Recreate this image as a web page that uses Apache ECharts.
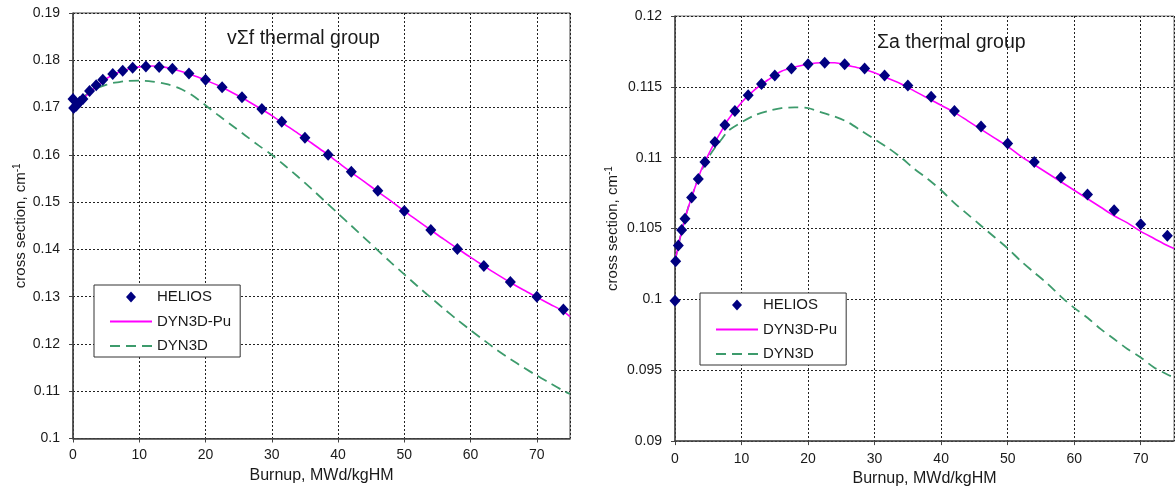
<!DOCTYPE html>
<html>
<head>
<meta charset="utf-8">
<script src="https://cdn.jsdelivr.net/npm/echarts@6/dist/echarts.min.js"></script>
<style>
html,body{margin:0;padding:0;background:#fff;}
#c{width:1175px;height:492px;}
</style>
</head>
<body>
<div id="c"></div>
<script>
// ---------- Left chart: nu-Sigma-f thermal group ----------
const helX = [0, 0.1, 0.5, 1, 1.5, 2.5, 3.5, 4.5, 6, 7.5, 9, 11, 13, 15, 17.5, 20, 22.5, 25.5, 28.5, 31.5, 35, 38.5, 42, 46, 50, 54, 58, 62, 66, 70, 74];
const nuSfHelios = [0.1718, 0.1699, 0.1704, 0.1712, 0.1718, 0.1735, 0.1747, 0.1759, 0.1771, 0.1778, 0.1784, 0.1787, 0.1786, 0.1782, 0.1772, 0.1759, 0.1743, 0.1722, 0.1697, 0.1670, 0.1636, 0.1600, 0.1564, 0.1524, 0.1481, 0.1441, 0.1401, 0.1365, 0.1331, 0.1300, 0.1273];

const curveX = [0, 0.5, 1, 1.5, 2, 3, 4, 5, 6, 7, 8, 10, 12, 14, 16, 18, 20, 22, 24, 26, 28, 30, 32, 34, 36, 38, 40, 42, 44, 46, 48, 50, 52, 54, 56, 58, 60, 62, 64, 66, 68, 70, 72, 74, 75];
const nuSfPu = [0.1700, 0.1705, 0.1711, 0.1718, 0.1725, 0.1738, 0.1750, 0.1761, 0.1769, 0.1775, 0.1780, 0.1786, 0.1788, 0.1785, 0.1778, 0.1769, 0.1758, 0.1746, 0.1732, 0.1717, 0.1700, 0.1683, 0.1664, 0.1645, 0.1625, 0.1605, 0.1584, 0.1563, 0.1543, 0.1522, 0.1502, 0.1481, 0.1461, 0.1441, 0.1421, 0.1402, 0.1383, 0.1365, 0.1347, 0.1330, 0.1314, 0.1299, 0.1284, 0.1269, 0.1258];
const nuSfDyn = [0.1700, 0.1708, 0.1715, 0.1721, 0.1727, 0.1736, 0.1743, 0.1748, 0.1752, 0.1754, 0.1756, 0.1757, 0.1755, 0.1750, 0.1741, 0.1726, 0.1705, 0.1683, 0.1662, 0.1641, 0.1620, 0.1600, 0.1577, 0.1553, 0.1528, 0.1502, 0.1476, 0.1450, 0.1424, 0.1398, 0.1372, 0.1347, 0.1322, 0.1298, 0.1274, 0.1251, 0.1229, 0.1208, 0.1187, 0.1168, 0.1150, 0.1133, 0.1117, 0.1101, 0.1094];

// ---------- Right chart: Sigma-a thermal group ----------
const saHelios = [0.0999, 0.1027, 0.1038, 0.1049, 0.1057, 0.1072, 0.1085, 0.1097, 0.1111, 0.1123, 0.1133, 0.1144, 0.1152, 0.1158, 0.1163, 0.1166, 0.1167, 0.1166, 0.1163, 0.1158, 0.1151, 0.1143, 0.1133, 0.1122, 0.1110, 0.1097, 0.1086, 0.1074, 0.1063, 0.1053, 0.1045];
const saPu = [0.1027, 0.1038, 0.1048, 0.1057, 0.1065, 0.1079, 0.1092, 0.1102, 0.1111, 0.1119, 0.1127, 0.1139, 0.1148, 0.1155, 0.1161, 0.1164, 0.1166, 0.1167, 0.1167, 0.1165, 0.1163, 0.1160, 0.1156, 0.1152, 0.1147, 0.1142, 0.1137, 0.1132, 0.1126, 0.1120, 0.1114, 0.1108, 0.1101, 0.1095, 0.1089, 0.1083, 0.1077, 0.1071, 0.1065, 0.1059, 0.1054, 0.1048, 0.1043, 0.1038, 0.1036];
const saDyn = [0.1027, 0.1038, 0.1048, 0.1057, 0.1065, 0.1079, 0.1091, 0.1100, 0.1107, 0.1113, 0.1119, 0.1125, 0.1130, 0.1133, 0.1135, 0.11355, 0.1135, 0.1132, 0.1129, 0.1125, 0.1119, 0.1113, 0.1107, 0.1100, 0.1092, 0.1085, 0.1077, 0.1068, 0.1060, 0.1052, 0.1044, 0.1036, 0.1027, 0.1019, 0.1011, 0.1002, 0.0994, 0.0987, 0.0979, 0.0972, 0.0965, 0.0959, 0.0952, 0.0947, 0.0945];

const titles = ['vΣf thermal group', 'Σa thermal group'];
const names = ['HELIOS', 'DYN3D-Pu', 'DYN3D'];
const xName = 'Burnup, MWd/kgHM';

const zip = (xs, ys) => xs.map((x, i) => [x, ys[i]]);
const FONT = '"Liberation Sans", Arial, sans-serif';
const TXT = '#1a1a1a';
const NAVY = '#000080', MAGENTA = '#ff00ff', GREEN = '#3d9b6c';
// legend diamond drawn centred inside a 42x11 icon box (moves widen the box)
const DIAMOND_ICON = 'path://M0,0 M42,11 M16,5.5 L21,0 L26,5.5 L21,11 Z';

function xAxisFor(gi, gap, margin) {
  return {
    gridIndex: gi, type: 'value', min: 0, max: 75, interval: 10,
    name: xName, nameLocation: 'middle', nameGap: gap,
    nameTextStyle: {fontFamily: FONT, fontSize: 16, color: TXT},
    axisLine: {lineStyle: {color: '#444', width: 1.5}},
    axisTick: {show: true, length: 4, lineStyle: {color: '#444'}},
    axisLabel: {fontFamily: FONT, fontSize: 14, color: TXT, margin: margin, showMaxLabel: false},
    splitLine: {show: true, lineStyle: {color: '#222', type: [2, 2], width: 1}}
  };
}
function yAxisFor(gi, min, max, interval, gap) {
  return {
    gridIndex: gi, type: 'value', min: min, max: max, interval: interval,
    name: 'cross section, cm{sup|-1}', nameLocation: 'middle', nameGap: gap,
    nameTextStyle: {fontFamily: FONT, fontSize: 15, color: TXT,
      rich: {sup: {fontFamily: FONT, fontSize: 10, color: TXT, padding: [0, 0, 8, 0]}}},
    axisLine: {lineStyle: {color: '#444', width: 1.5}},
    axisTick: {show: true, length: 4, lineStyle: {color: '#444'}},
    axisLabel: {fontFamily: FONT, fontSize: 14, color: TXT, margin: 13,
      formatter: v => String(+v.toFixed(4))},
    splitLine: {show: true, lineStyle: {color: '#222', type: [2, 2], width: 1}}
  };
}
function seriesFor(gi, hel, pu, dyn, xs) {
  return [
    {name: names[0], type: 'scatter', xAxisIndex: gi, yAxisIndex: gi, data: zip(xs, hel),
      symbol: 'diamond', symbolSize: [11, 12], itemStyle: {color: NAVY, opacity: 1}, z: 5},
    {name: names[1], type: 'line', xAxisIndex: gi, yAxisIndex: gi, data: zip(curveX, pu),
      symbol: 'none', smooth: 0.3, lineStyle: {color: MAGENTA, width: 1.6}, itemStyle: {color: MAGENTA}, z: 3},
    {name: names[2], type: 'line', xAxisIndex: gi, yAxisIndex: gi, data: zip(curveX, dyn),
      symbol: 'none', smooth: 0.3, lineStyle: {color: GREEN, width: 1.8, type: [10, 6]}, itemStyle: {color: GREEN}, z: 2}
  ];
}
function legendFor(left, top) {
  return {
    left: left, top: top, orient: 'vertical',
    data: [
      {name: names[0], icon: DIAMOND_ICON, itemStyle: {color: NAVY, opacity: 1}},
      {name: names[1], itemStyle: {opacity: 0}},
      {name: names[2], itemStyle: {opacity: 0}}
    ],
    symbolKeepAspect: true,
    backgroundColor: '#fff', borderColor: '#333', borderWidth: 1,
    padding: [3, 9, 2, 15], itemWidth: 42, itemHeight: 11, itemGap: 6.5,
    textStyle: {fontFamily: FONT, fontSize: 15, color: TXT, lineHeight: 18},
    selectedMode: false
  };
}

const chart = echarts.init(document.getElementById('c'), null, {renderer: 'canvas'});
chart.setOption({
  backgroundColor: '#fff',
  animation: false,
  title: [
    {text: titles[0], left: 227, top: 29, padding: 0,
      textStyle: {fontFamily: FONT, fontSize: 19.5, fontWeight: 'normal', color: TXT}},
    {text: titles[1], left: 877, top: 33, padding: 0,
      textStyle: {fontFamily: FONT, fontSize: 19.5, fontWeight: 'normal', color: TXT}}
  ],
  grid: [
    {left: 73, top: 13, width: 497, height: 425.5, show: true, borderColor: '#444', borderWidth: 1},
    {left: 675, top: 16, width: 499, height: 428, show: true, borderColor: '#777', borderWidth: 1}
  ],
  legend: [legendFor(94, 285), legendFor(700, 293)],
  xAxis: [xAxisFor(0, 23, 10), xAxisFor(1, 26, 11)],
  yAxis: [yAxisFor(0, 0.1, 0.19, 0.01, 42), yAxisFor(1, 0.09, 0.12, 0.005, 53)],
  series: [].concat(
    seriesFor(0, nuSfHelios, nuSfPu, nuSfDyn, helX),
    seriesFor(1, saHelios, saPu, saDyn, helX)
  )
});
</script>
</body>
</html>
